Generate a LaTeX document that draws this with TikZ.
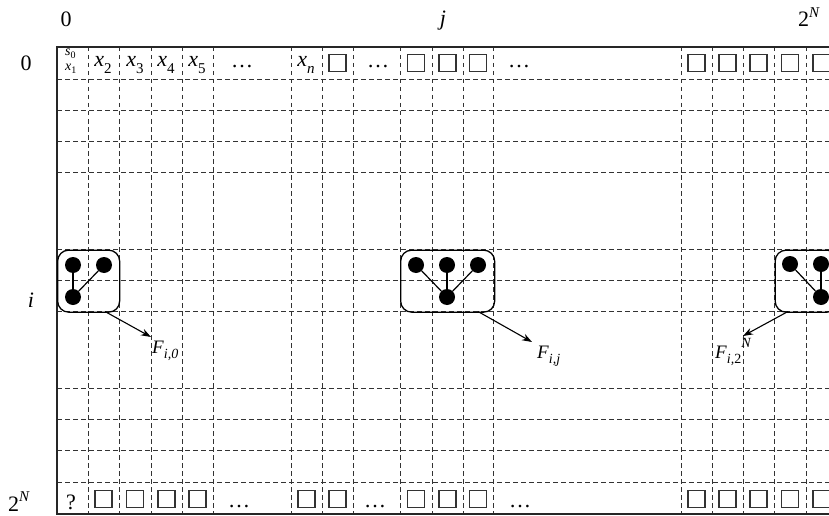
\documentclass[tikz,border=0pt]{standalone}
\usepackage{fontspec}
\setmainfont{Liberation Serif}
\usetikzlibrary{arrows.meta}
\newcommand\lsub[2][15]{\raisebox{-0.3em}{\fontsize{#1}{#1}\selectfont #2}}
\newcommand\tsub[1]{\raisebox{-0.18em}{\fontsize{10}{10}\selectfont #1}}
\newcommand\hsup[2][15]{\raisebox{0.45em}{\fontsize{#1}{#1}\selectfont #2}}
\tikzset{
 gridline/.style={dash pattern=on 4.5pt off 3.5pt, line width=0.8pt, black!80},
 framel/.style={line width=1.2pt, black!85},
 sq/.style={draw=black!80, line width=1.3pt, minimum size=17pt, inner sep=0pt},
 lbl/.style={font=\fontsize{22}{26}\selectfont, inner sep=0pt, anchor=base},
 smalllbl/.style={font=\fontsize{14}{14}\selectfont, inner sep=0pt, anchor=base west},
 groupbox/.style={draw, rounded corners=11pt, line width=1.3pt, inner sep=0pt, anchor=north west},
 dotn/.style={circle, fill=black, minimum size=16pt, inner sep=0pt},
 link/.style={line width=1.2pt},
 ptr/.style={-{Stealth[length=10pt,width=7pt]}, line width=1.1pt},
 flabel/.style={font=\fontsize{19}{22}\selectfont, inner sep=0pt, anchor=base west},
}
\begin{document}
\begin{tikzpicture}[x=1pt,y=-1pt]
\useasboundingbox (0,0) rectangle (829,516);
\clip (0,0) rectangle (829,516);
% grid
\foreach \yy in {79,110,141,172,249,280,311,388,419,450,482}
  \draw[gridline] (57,\yy) -- (860,\yy);
\foreach \xx in {88,119,151,182,213,291,322,353,400,432,463,493,681,712,743,774,806,837}
  \draw[gridline] (\xx,47) -- (\xx,514);
\draw[framel] (860,47) -- (57,47) -- (57,514) -- (860,514);
% axis labels
\node[lbl] (c0) at (66,27) {0};
\node[lbl] (cj) at (443,26) {\textit{j}};
\node[lbl, anchor=base west] (cN) at (798,27) {2\hsup{\textit{N}}};
\node[lbl] (r0) at (26,71) {0};
\node[lbl] (ri) at (31,307) {\textit{i}};
\node[lbl, anchor=base west] (rN) at (8,511) {2\hsup{\textit{N}}};
% row 0
\node[smalllbl] (s0) at (65,56) {\textit{s}\tsub{0}};
\node[smalllbl] (x1) at (65,71) {\textit{x}\tsub{1}};
\node[lbl] (x2) at (103,67) {\textit{x}\lsub{2}};
\node[lbl] (x3) at (135,67) {\textit{x}\lsub{3}};
\node[lbl] (x4) at (166,67) {\textit{x}\lsub{4}};
\node[lbl] (x5) at (197,67) {\textit{x}\lsub{5}};
\node[lbl] (e01) at (242,68) {\ldots};
\node[lbl] (xn) at (306,67) {\textit{x}\lsub{\textit{n}}};
\node[lbl] (e02) at (378,68) {\ldots};
\node[lbl] (e03) at (519,68) {\ldots};
\foreach \xx/\nm in {337.5/a1,416/a2,447.5/a3,478/a4,696.5/a5,727.5/a6,758.5/a7,790/a8,821.5/a9}
  \node[sq] (t\nm) at (\xx,63) {};
% row 2^N
\node[lbl] (q) at (71,509) {?};
\foreach \xx/\nm in {103.5/b1,135/b2,166.5/b3,197.5/b4,306.5/b5,337.5/b6,416/b7,447.5/b8,478/b9,696.5/b10,727.5/b11,758.5/b12,790/b13,821.5/b14}
  \node[sq] (u\nm) at (\xx,499) {};
\node[lbl] (e11) at (239,507) {\ldots};
\node[lbl] (e12) at (375,507) {\ldots};
\node[lbl] (e13) at (520,507) {\ldots};
% group 1
\node[groupbox, minimum width=62pt, minimum height=62pt] (g1) at (57,249.5) {};
\node[dotn] (d11) at (73,265) {};
\node[dotn] (d12) at (104,265) {};
\node[dotn] (d13) at (73,297) {};
\draw[link] (d11) -- (d13);
\draw[link] (d12) -- (d13);
% group 2
\node[groupbox, minimum width=94pt, minimum height=62pt] (g2) at (400,249.5) {};
\node[dotn] (d21) at (416,265) {};
\node[dotn] (d22) at (447,265) {};
\node[dotn] (d23) at (478,265) {};
\node[dotn] (d24) at (447,297) {};
\draw[link] (d21) -- (d24);
\draw[link] (d22) -- (d24);
\draw[link] (d23) -- (d24);
% group 3
\node[groupbox, minimum width=63pt, minimum height=62pt] (g3) at (774.5,249.5) {};
\node[dotn] (d31) at (790,264) {};
\node[dotn] (d32) at (821,264) {};
\node[dotn] (d33) at (821,297) {};
\draw[link] (d31) -- (d33);
\draw[link] (d32) -- (d33);
% pointers
\coordinate (p1s) at (105,311.5);
\coordinate (p1e) at (151,337);
\node[flabel] (f1) at (152,353) {\textit{F}\lsub[14]{\textit{i,0}}};
\draw[ptr] (p1s) -- (p1e);
\coordinate (p2s) at (478,311.5);
\coordinate (p2e) at (532,342);
\node[flabel] (f2) at (537,358) {\textit{F}\lsub[14]{\textit{i,j}}};
\draw[ptr] (p2s) -- (p2e);
\coordinate (p3s) at (788,311.5);
\coordinate (p3e) at (743,336);
\node[flabel] (f3) at (715,358) {\textit{F}\lsub[14]{\textit{i,}2}\raisebox{0.55em}{\fontsize{14}{14}\selectfont\textit{N}}};
\draw[ptr] (p3s) -- (p3e);
\end{tikzpicture}
\end{document}
